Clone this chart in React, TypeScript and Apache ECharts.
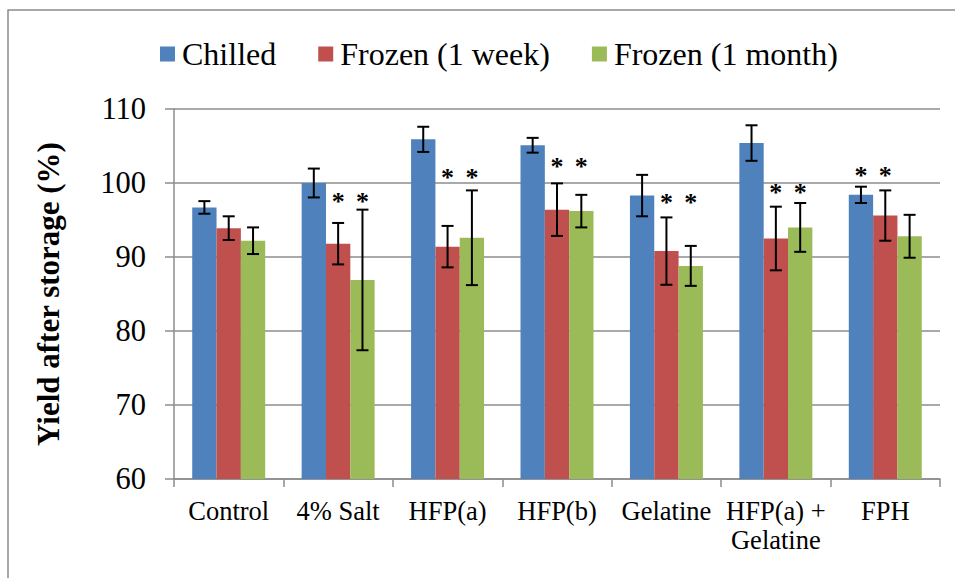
import React, { useEffect, useRef } from "react";
import * as echarts from "echarts";

const categories = ["Control", "4% Salt", "HFP(a)", "HFP(b)", "Gelatine", "HFP(a) +\nGelatine", "FPH"];
const seriesNames = ["Chilled", "Frozen (1 week)", "Frozen (1 month)"];
const chilled = [96.7, 100.0, 105.9, 105.1, 98.3, 105.4, 98.4];
const chilledErr = [0.85, 1.95, 1.7, 1.0, 2.8, 2.4, 1.1];
const week = [93.9, 91.8, 91.4, 96.4, 90.8, 92.5, 95.6];
const weekErr = [1.6, 2.8, 2.8, 3.55, 4.55, 4.3, 3.4];
const month = [92.2, 86.9, 92.6, 96.2, 88.8, 94.0, 92.8];
const monthErr = [1.8, 9.5, 6.4, 2.2, 2.7, 3.3, 2.9];
// [category index, series index, value where the asterisk sits]
const stars = [
  [1, 1, 97.7], [1, 2, 97.7],
  [2, 1, 100.9], [2, 2, 100.9],
  [3, 1, 102.3], [3, 2, 102.3],
  [4, 1, 97.5], [4, 2, 97.5],
  [5, 1, 98.8], [5, 2, 98.8],
  [6, 0, 101.2], [6, 1, 101.2],
];
const colors = ["#4F81BD", "#C0504D", "#9BBB59"];
const yTicks = { min: 60, max: 110, interval: 10 };

const FONT = "Times New Roman, Liberation Serif, serif";
const CAT_GAP = 0.333;

export default function App() {
  const ref = useRef<HTMLDivElement>(null);
  useEffect(() => {
    document.body.style.margin = "0";
    const chart = echarts.init(ref.current!, null, { renderer: "svg" });
    const values = [chilled, week, month];
    const errs = [chilledErr, weekErr, monthErr];

    const barSeries = values.map((vals, i) => ({
      name: seriesNames[i],
      type: "bar",
      data: vals,
      barGap: "0%",
      barCategoryGap: "33.3%",
      itemStyle: { color: colors[i] },
      z: 2,
    }));

    const errSeries = values.map((vals, i) => ({
      type: "custom",
      name: "err" + i,
      data: vals.map((v, c) => [c, v, errs[i][c]]),
      encode: { x: 0, y: 1 },
      z: 5,
      silent: true,
      renderItem: (params: any, api: any) => {
        const c = api.value(0);
        const v = api.value(1);
        const e = api.value(2);
        const bw = api.size([1, 0])[0];
        const barW = (bw * (1 - CAT_GAP)) / 3;
        const center = api.coord([c, v]);
        const x = center[0] + (i - 1) * barW;
        const top = api.coord([c, v + e])[1];
        const bot = api.coord([c, v - e])[1];
        const cap = 6;
        const st = { stroke: "#000", lineWidth: 2 };
        return {
          type: "group",
          children: [
            { type: "line", shape: { x1: x, y1: top, x2: x, y2: bot }, style: st },
            { type: "line", shape: { x1: x - cap, y1: top, x2: x + cap, y2: top }, style: st },
            { type: "line", shape: { x1: x - cap, y1: bot, x2: x + cap, y2: bot }, style: st },
          ],
        };
      },
    }));

    const starSeries = {
      type: "custom",
      name: "stars",
      data: stars,
      encode: { x: 0, y: 2 },
      z: 6,
      silent: true,
      renderItem: (params: any, api: any) => {
        const c = api.value(0);
        const s = api.value(1);
        const v = api.value(2);
        const bw = api.size([1, 0])[0];
        const barW = (bw * (1 - CAT_GAP)) / 3;
        const p = api.coord([c, v]);
        return {
          type: "text",
          x: p[0] + (s - 1) * barW,
          y: p[1] + 1,
          style: {
            text: "*",
            fill: "#000",
            fontFamily: FONT,
            fontSize: 26,
            fontWeight: "bold",
            align: "center",
            verticalAlign: "middle",
          },
        };
      },
    };

    chart.setOption({
      animation: false,
      backgroundColor: "#fff",
      color: colors,
      graphic: [
        {
          type: "rect",
          shape: { x: 8, y: 10, width: 960, height: 580 },
          style: { fill: "none", stroke: "#8c8c8c", lineWidth: 1.5 },
          silent: true,
        },
      ],
      legend: {
        data: seriesNames,
        left: 155,
        top: 31,
        itemWidth: 15,
        itemHeight: 15,
        itemGap: 42,
        icon: "rect",
        textStyle: { fontFamily: FONT, fontSize: 32, color: "#000", lineHeight: 36, padding: [0, 0, 0, 2] },
      },
      grid: { left: 174, right: 15, top: 109, bottom: 99 },
      xAxis: {
        type: "category",
        data: categories,
        axisLine: { lineStyle: { color: "#8c8c8c", width: 1.5 } },
        axisTick: { show: true, length: 8, lineStyle: { color: "#8c8c8c", width: 1.5 } },
        axisLabel: {
          fontFamily: FONT,
          fontSize: 26.5,
          color: "#000",
          margin: 17,
          lineHeight: 29,
          interval: 0,
        },
      },
      yAxis: {
        type: "value",
        min: yTicks.min,
        max: yTicks.max,
        interval: yTicks.interval,
        name: "Yield after storage (%)",
        nameLocation: "middle",
        nameRotate: 90,
        nameGap: 110,
        nameTextStyle: { fontFamily: FONT, fontSize: 31, fontWeight: "bold", color: "#000" },
        axisLine: { show: true, lineStyle: { color: "#8c8c8c", width: 1.5 } },
        axisTick: { show: true, length: 9, lineStyle: { color: "#8c8c8c", width: 1.5 } },
        axisLabel: { fontFamily: FONT, fontSize: 30.5, color: "#000", margin: 28 },
        splitLine: { lineStyle: { color: "#8c8c8c", width: 1.5 } },
      },
      series: [...barSeries, ...errSeries, starSeries],
    });
    return () => chart.dispose();
  }, []);
  return <div ref={ref} style={{ width: 955, height: 578 }} />;
}
